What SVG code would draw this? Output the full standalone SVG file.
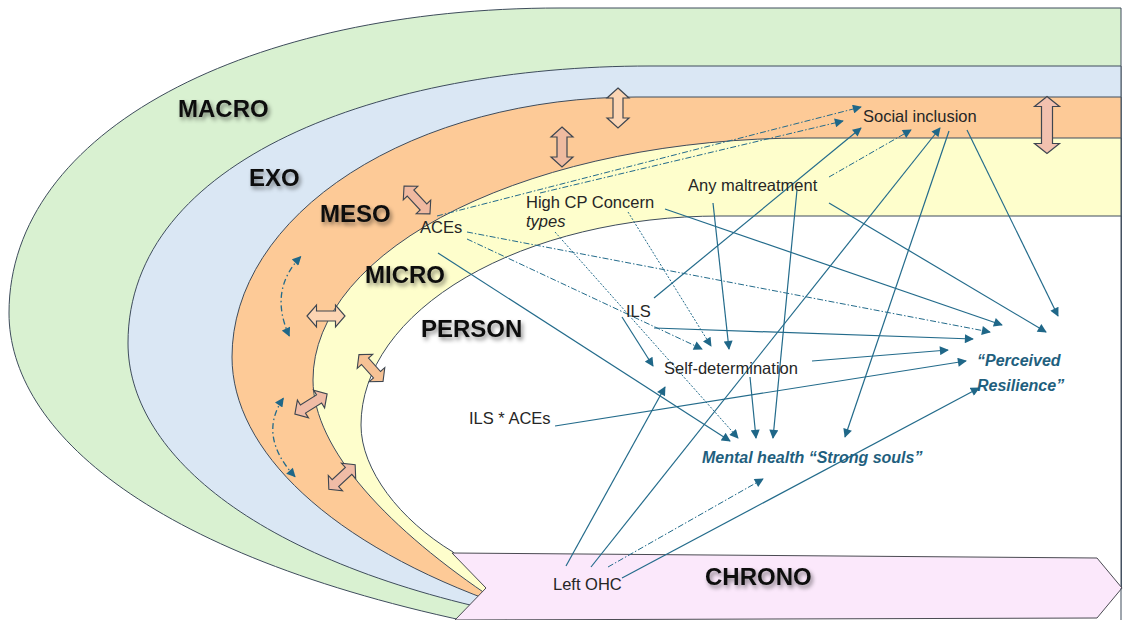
<svg xmlns="http://www.w3.org/2000/svg" width="1124" height="620" viewBox="0 0 1124 620">
<defs>
<style>
.ring{stroke:#3e4c5c;stroke-width:1}
.lbl{font-family:"Liberation Sans",Arial,sans-serif;font-size:16.5px;fill:#262626}
.sys{font-family:"Liberation Sans",Arial,sans-serif;font-weight:bold;font-size:24px;fill:#111}
.out{font-family:"Liberation Sans",Arial,sans-serif;font-weight:bold;font-style:italic;font-size:16px;fill:#1f5f7e}
.c{fill:none;stroke:#236b8b;stroke-width:1.2;marker-end:url(#ah)}
.dd{stroke-dasharray:6 2 1.5 2;stroke-width:1}
.dt{stroke-dasharray:2 1.6;stroke-width:1}
.cv{fill:none;stroke:#236b8b;stroke-width:1.3;stroke-dasharray:6 3 1.5 3;marker-start:url(#ahs);marker-end:url(#ah)}
.blk{stroke:#3e4650;stroke-width:1.2}
</style>
<filter id="shadow" x="-20%" y="-40%" width="150%" height="200%">
<feDropShadow dx="2" dy="3" stdDeviation="2" flood-color="#000" flood-opacity="0.45"/>
</filter>
<marker id="ah" viewBox="0 0 10 10" refX="9" refY="5" markerWidth="10" markerHeight="9" markerUnits="userSpaceOnUse" orient="auto">
<path d="M0,0 L10,5 L0,10 Z" fill="#1f6788"/>
</marker>
<marker id="ahs" viewBox="0 0 10 10" refX="9" refY="5" markerWidth="10" markerHeight="9" markerUnits="userSpaceOnUse" orient="auto-start-reverse">
<path d="M0,0 L10,5 L0,10 Z" fill="#1f6788"/>
</marker>
<!-- double-headed block arrows, centred on the origin along x -->
<path id="dbl40" d="M-20,0 L-10,-11 L-10,-5 L10,-5 L10,-11 L20,0 L10,11 L10,5 L-10,5 L-10,11 Z"/>
<path id="dbl57" d="M-28.5,0 L-18.5,-12.5 L-18.5,-5.5 L18.5,-5.5 L18.5,-12.5 L28.5,0 L18.5,12.5 L18.5,5.5 L-18.5,5.5 L-18.5,12.5 Z"/>
</defs>

<!-- nested system layers, outer to inner -->
<g id="macro">
<path class="ring" fill="#d9f1d1" d="M1121,8 L560,8 C250,8 9,130 9,313 C9,430 150,560 500,628 L520,600 L1090,590 L1121,588 Z"/>
<text class="sys" filter="url(#shadow)" x="178" y="117">MACRO</text>
</g>
<g id="exo">
<path class="ring" fill="#dae7f4" d="M1121,66 L650,66 C380,66 128,160 128,343 C128,450 250,560 510,614 L520,600 L1090,590 L1121,588 Z"/>
<text class="sys" filter="url(#shadow)" x="249" y="186">EXO</text>
</g>
<g id="meso">
<path class="ring" fill="#fdca97" d="M1121,97 L636,97 A404,260 0 0 0 232,357 C232,450 330,545 505,606 L520,600 L1090,590 L1121,588 Z"/>
<text class="sys" filter="url(#shadow)" x="320" y="222">MESO</text>
</g>
<g id="micro">
<path class="ring" fill="#fefecc" d="M1121,138 L806,138 A493,242 0 0 0 313,380 C313,450 390,530 495,600 L520,598 L1090,590 L1121,588 Z"/>
<text class="sys" filter="url(#shadow)" x="365" y="283">MICRO</text>
</g>
<g id="person">
<path class="ring" fill="#ffffff" d="M1121,216 L720,216 A359,209 0 0 0 361,425 C361,470 400,520 453,552 L492,590 L1090,590 L1121,588 Z"/>
<text class="sys" filter="url(#shadow)" x="421" y="337">PERSON</text>
</g>
<g id="chrono">
<path fill="#fbe8fb" stroke="#4a4a52" stroke-width="1" d="M452,553 L1097,558 L1122,588 L1097,618 L455,620 L486,588 Z"/>
<line x1="1121" y1="588" x2="1121" y2="620" stroke="#3e4c5c" stroke-width="1"/>
<text class="sys" filter="url(#shadow)" x="705" y="585">CHRONO</text>
</g>

<!-- interactions between layers -->
<g id="layer-links">
<use href="#dbl40" class="blk" fill="#fcd5b3" transform="translate(618,108) rotate(90)"/>
<use href="#dbl40" class="blk" fill="#efbba0" transform="translate(562,147) rotate(90)"/>
<use href="#dbl57" class="blk" fill="#f2c1af" transform="translate(1047,125) rotate(90)"/>
<use href="#dbl40" class="blk" fill="#f0b9a0" transform="translate(417,200) rotate(47) scale(0.95,0.9)"/>
<use href="#dbl40" class="blk" fill="#fcd5b3" transform="translate(326,316) scale(0.95,1)"/>
<use href="#dbl40" class="blk" fill="#f6c295" transform="translate(371,368) rotate(48) scale(0.9,0.95)"/>
<use href="#dbl40" class="blk" fill="#f0bca6" transform="translate(311,404) rotate(-32) scale(0.95,0.95)"/>
<use href="#dbl40" class="blk" fill="#f0bca6" transform="translate(342,477) rotate(-43) scale(0.9,0.95)"/>
<path class="cv" d="M300.7,256.7 Q268.4,290.3 289.3,336"/>
<path class="cv" d="M283.3,398.3 Q257.5,435.9 295,476.7"/>
</g>

<!-- paths between constructs -->
<g id="connectors">
<line class="c" x1="438" y1="253" x2="730" y2="441"/>
<line class="c" x1="665" y1="209" x2="1002" y2="325"/>
<line class="c" x1="829" y1="203" x2="1046" y2="332"/>
<line class="c" x1="967" y1="130" x2="1058" y2="316"/>
<line class="c" x1="713" y1="203" x2="729" y2="349"/>
<line class="c" x1="797" y1="190" x2="773" y2="438"/>
<line class="c" x1="750" y1="377" x2="756" y2="438"/>
<line class="c" x1="949" y1="131" x2="845" y2="437"/>
<line class="c" x1="654" y1="328" x2="973" y2="339"/>
<line class="c" x1="654" y1="298" x2="861" y2="128"/>
<line class="c" x1="622" y1="317" x2="653" y2="366"/>
<line class="c" x1="812" y1="361" x2="948" y2="350"/>
<line class="c" x1="555" y1="426" x2="966" y2="361"/>
<line class="c" x1="566" y1="566" x2="665" y2="387"/>
<line class="c" x1="591" y1="567" x2="940" y2="128"/>
<line class="c" x1="622" y1="578" x2="979" y2="388"/>
<line class="c dd" x1="437" y1="216" x2="861" y2="107"/>
<line class="c dd" x1="540" y1="193" x2="843" y2="121"/>
<line class="c dd" x1="829" y1="177" x2="911" y2="130"/>
<line class="c dd" x1="467" y1="232" x2="990" y2="332"/>
<line class="c dd" x1="467" y1="239" x2="702" y2="349"/>
<line class="c dt" x1="628" y1="212" x2="711" y2="346"/>
<line class="c dt" x1="555" y1="232" x2="738" y2="438"/>
<line class="c dd" x1="608" y1="567" x2="763" y2="479"/>
</g>

<g id="aces"><text class="lbl" x="420" y="233">ACEs</text></g>
<g id="high-cp-concern"><text class="lbl" x="526" y="208">High CP Concern</text><text class="lbl" x="526" y="227" font-style="italic">types</text></g>
<g id="any-maltreatment"><text class="lbl" x="688" y="191">Any maltreatment</text></g>
<g id="social-inclusion"><text class="lbl" x="863" y="122">Social inclusion</text></g>
<g id="ils"><text class="lbl" x="626" y="317">ILS</text></g>
<g id="self-determination"><text class="lbl" x="664" y="374">Self-determination</text></g>
<g id="ils-aces"><text class="lbl" x="469" y="424">ILS * ACEs</text></g>
<g id="mental-health"><text class="out" x="702" y="463">Mental health “Strong souls”</text></g>
<g id="perceived-resilience"><text class="out" x="977" y="366">“Perceived</text><text class="out" x="977" y="391">Resilience”</text></g>
<g id="left-ohc"><text class="lbl" x="553" y="590">Left OHC</text></g>
</svg>
